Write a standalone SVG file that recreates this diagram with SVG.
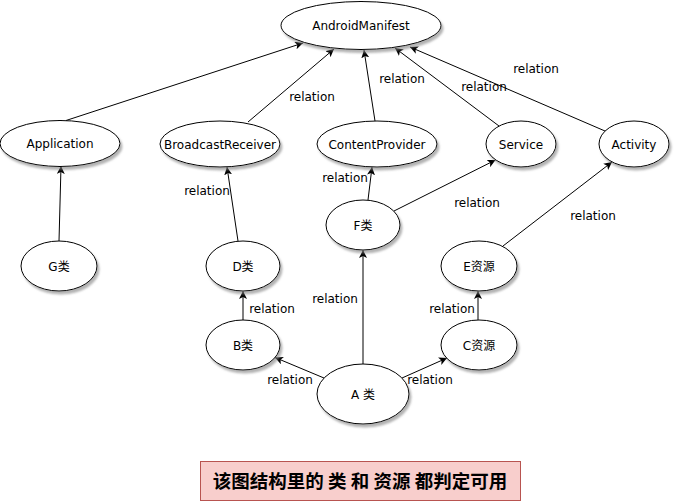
<svg xmlns="http://www.w3.org/2000/svg" width="678" height="501" viewBox="0 0 678 501">
<defs>
<filter id="sh" x="-20%" y="-20%" width="140%" height="150%">
<feDropShadow dx="2" dy="3" stdDeviation="1.2" flood-color="#808080" flood-opacity="0.6"/>
</filter>
<marker id="arr" viewBox="0 0 10 10" refX="10" refY="5" markerWidth="8" markerHeight="8" markerUnits="userSpaceOnUse" orient="auto">
<path d="M0,0 L10,5 L0,10 L2.5,5 Z" fill="#000"/>
</marker>
</defs>
<style>
.n ellipse{fill:#fff;stroke:#000;stroke-width:1;filter:url(#sh)}
text{font-family:"DejaVu Sans","Noto Sans CJK SC",sans-serif;font-size:12px;fill:#000;text-anchor:middle}
.c line{stroke:#000;stroke-width:1;marker-end:url(#arr)}
.banner rect{fill:#f8cecc;stroke:#b85450;stroke-width:1}
.banner text{font-family:"Noto Sans CJK SC","DejaVu Sans",sans-serif;font-size:18.5px;font-weight:bold}
</style>
<rect width="678" height="501" fill="#fff"/>
<g class="c" id="connectors">
<line x1="66" y1="120.5" x2="303" y2="43"/>
<line x1="248" y1="122" x2="334" y2="49"/>
<line x1="375" y1="121" x2="364" y2="50"/>
<line x1="499" y1="126" x2="395" y2="48"/>
<line x1="605" y1="131" x2="410" y2="47"/>
<line x1="59" y1="241" x2="61" y2="166"/>
<line x1="238" y1="241" x2="227" y2="167"/>
<line x1="243" y1="320" x2="243" y2="291"/>
<line x1="478" y1="320" x2="478" y2="291"/>
<line x1="363" y1="364" x2="363" y2="250"/>
<line x1="324" y1="378" x2="275" y2="357.5"/>
<line x1="402" y1="378" x2="447" y2="358"/>
<line x1="368" y1="200" x2="372" y2="167"/>
<line x1="394" y1="211" x2="495.5" y2="160"/>
<line x1="503" y1="246" x2="612" y2="162"/>
<g id="labels">
<text x="312" y="101">relation</text>
<text x="402" y="83">relation</text>
<text x="484" y="91">relation</text>
<text x="536" y="73">relation</text>
<text x="207" y="195">relation</text>
<text x="345" y="182">relation</text>
<text x="477" y="207">relation</text>
<text x="593" y="220">relation</text>
<text x="335" y="303">relation</text>
<text x="272" y="313">relation</text>
<text x="452" y="313">relation</text>
<text x="290" y="384">relation</text>
<text x="430" y="384">relation</text>
</g>
</g>
<g class="n" id="AndroidManifest"><ellipse cx="361" cy="25.5" rx="80" ry="24"/><text x="361" y="30">AndroidManifest</text></g>
<g class="n" id="Application"><ellipse cx="60" cy="143.5" rx="60" ry="23"/><text x="60" y="148">Application</text></g>
<g class="n" id="BroadcastReceiver"><ellipse cx="220" cy="144" rx="60" ry="23"/><text x="220" y="148.5">BroadcastReceiver</text></g>
<g class="n" id="ContentProvider"><ellipse cx="377" cy="144" rx="60" ry="23"/><text x="377" y="148.5">ContentProvider</text></g>
<g class="n" id="Service"><ellipse cx="521" cy="144" rx="35" ry="23"/><text x="521" y="148.5">Service</text></g>
<g class="n" id="Activity"><ellipse cx="634" cy="144" rx="35" ry="23"/><text x="634" y="148.5">Activity</text></g>
<g class="n" id="G"><ellipse cx="59" cy="266" rx="38" ry="25"/><text x="59" y="270.5">G类</text></g>
<g class="n" id="D"><ellipse cx="243" cy="266" rx="37" ry="25"/><text x="243" y="270.5">D类</text></g>
<g class="n" id="F"><ellipse cx="363" cy="225" rx="37" ry="25"/><text x="363" y="229.5">F类</text></g>
<g class="n" id="E"><ellipse cx="479" cy="266" rx="38" ry="25"/><text x="479" y="270.5">E资源</text></g>
<g class="n" id="B"><ellipse cx="243" cy="345" rx="37" ry="25"/><text x="243" y="349.5">B类</text></g>
<g class="n" id="C"><ellipse cx="479" cy="345" rx="38" ry="25"/><text x="479" y="349.5">C资源</text></g>
<g class="n" id="A"><ellipse cx="363" cy="394" rx="46" ry="30"/><text x="363" y="398.5">A 类</text></g>
<g class="banner" id="banner"><rect x="200.5" y="461.5" width="320" height="39"/><text x="360" y="487.5">该图结构里的 类 和 资源 都判定可用</text></g>
</svg>
